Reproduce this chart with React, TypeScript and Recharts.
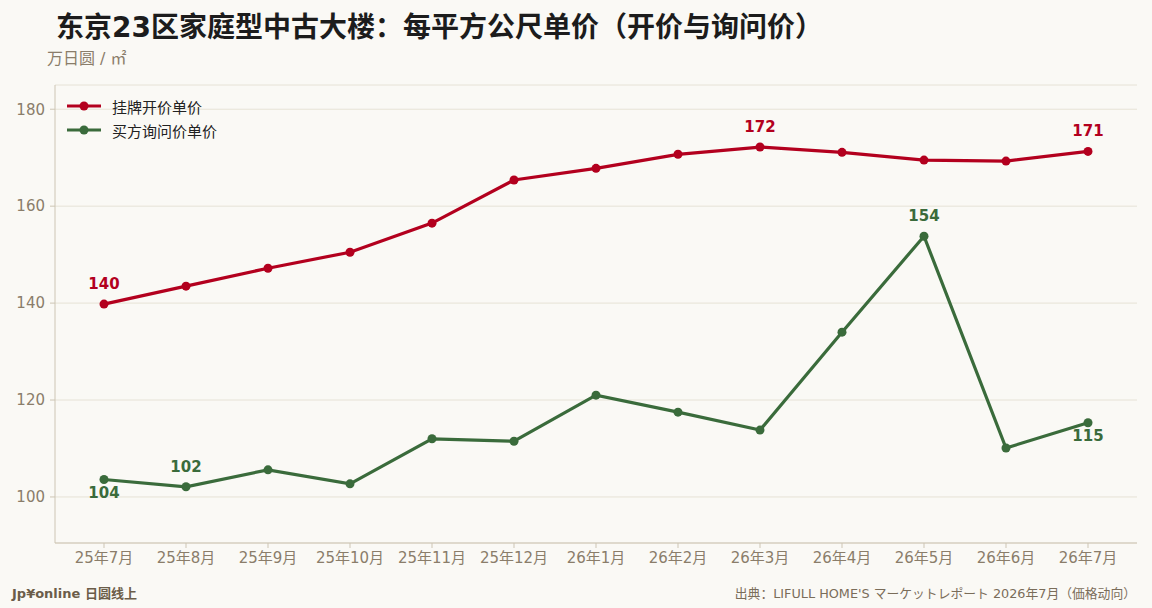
import { LineChart, Line, XAxis, YAxis, CartesianGrid, LabelList } from "recharts"

const months = [
  "25年7月", "25年8月", "25年9月", "25年10月", "25年11月", "25年12月",
  "26年1月", "26年2月", "26年3月", "26年4月", "26年5月", "26年6月", "26年7月",
]
const listingPrice = [139.8, 143.5, 147.2, 150.5, 156.5, 165.4, 167.8, 170.7, 172.2, 171.1, 169.5, 169.3, 171.3]
const inquiryPrice = [103.6, 102.1, 105.6, 102.7, 112.0, 111.5, 121.0, 117.5, 113.8, 134.0, 153.8, 110.1, 115.3]
const yTicks = [100, 120, 140, 160, 180]

// which points get a value label
const listingLabelIdx = [0, 8, 12]
const inquiryTopIdx = [1, 10]
const inquiryBottomIdx = [0, 12]

const RED = "#b3001e"
const GREEN = "#3a6b3b"
const MUTED = "#8a7d6a"
const FONT = '"DejaVu Sans", "Noto Sans CJK SC", sans-serif'

const series = [
  { name: "挂牌开价单价", color: RED },
  { name: "买方询问价单价", color: GREEN },
]

const pick = (arr: number[], idx: number[], i: number) => (idx.includes(i) ? Math.round(arr[i]) : null)

const data = months.map((month, i) => ({
  month,
  listing: listingPrice[i],
  inquiry: inquiryPrice[i],
  listingLabel: pick(listingPrice, listingLabelIdx, i),
  inquiryTop: pick(inquiryPrice, inquiryTopIdx, i),
  inquiryBottom: pick(inquiryPrice, inquiryBottomIdx, i),
}))

function ChartLegend() {
  return (
    <div style={{ position: "absolute", left: 67, top: 94 }}>
      {series.map((s) => (
        <div key={s.name} style={{ display: "flex", alignItems: "center", height: 24 }}>
          <svg width={34} height={12} style={{ marginRight: 11 }}>
            <line x1={0} y1={6} x2={34} y2={6} stroke={s.color} strokeWidth={3} />
            <circle cx={17} cy={6} r={4.5} fill={s.color} />
          </svg>
          <span style={{ fontSize: 15, color: "#222" }}>{s.name}</span>
        </div>
      ))}
    </div>
  )
}

export default function App() {
  return (
    <div
      style={{
        position: "absolute",
        left: 0,
        top: 0,
        width: 1152,
        height: 608,
        background: "#faf9f5",
        fontFamily: FONT,
      }}
    >
      <div style={{ position: "absolute", left: 56, top: 13, fontSize: 28, lineHeight: "30px", fontWeight: 700, color: "#1c1c1c" }}>
        东京23区家庭型中古大楼：每平方公尺单价（开价与询问价）
      </div>
      <div style={{ position: "absolute", left: 47, top: 50, fontSize: 16, lineHeight: "18px", color: MUTED }}>
        万日圆 / ㎡
      </div>

      <LineChart width={1152} height={608} data={data} margin={{ top: 85, right: 15, bottom: 35, left: 10 }}>
        <CartesianGrid vertical={false} stroke="#e6e2d6" strokeWidth={1} />
        <XAxis
          dataKey="month"
          padding={{ left: 49, right: 49 }}
          height={30}
          stroke="#cdc5b4"
          tickSize={5}
          tickMargin={4}
          tick={{ fill: MUTED, fontSize: 15 }}
          interval={0}
        />
        <YAxis
          domain={[90.5, 185]}
          ticks={yTicks}
          width={45}
          stroke="#cdc5b4"
          tickSize={5}
          tickMargin={5}
          tick={{ fill: MUTED, fontSize: 15 }}
        />
        <Line
          dataKey="listing"
          name="挂牌开价单价"
          stroke={RED}
          strokeWidth={3.2}
          dot={{ r: 4.5, fill: RED, stroke: RED, strokeWidth: 0 }}
          activeDot={false}
          isAnimationActive={false}
        >
          <LabelList dataKey="listingLabel" position="top" offset={15} fill={RED} fontSize={15} fontWeight={700} />
        </Line>
        <Line
          dataKey="inquiry"
          name="买方询问价单价"
          stroke={GREEN}
          strokeWidth={3.2}
          dot={{ r: 4.5, fill: GREEN, stroke: GREEN, strokeWidth: 0 }}
          activeDot={false}
          isAnimationActive={false}
        >
          <LabelList dataKey="inquiryTop" position="top" offset={15} fill={GREEN} fontSize={15} fontWeight={700} />
          <LabelList dataKey="inquiryBottom" position="bottom" offset={8} fill={GREEN} fontSize={15} fontWeight={700} />
        </Line>
      </LineChart>

      <ChartLegend />

      <div style={{ position: "absolute", left: 12, top: 586, fontSize: 13, lineHeight: "16px", fontWeight: 700, color: "#6b5d49" }}>
        Jp¥online 日圆线上
      </div>
      <div style={{ position: "absolute", right: 16, top: 586, fontSize: 12.8, lineHeight: "16px", color: "#7a6d5a" }}>
        出典：LIFULL HOME'S マーケットレポート 2026年7月（価格动向）
      </div>
    </div>
  )
}
